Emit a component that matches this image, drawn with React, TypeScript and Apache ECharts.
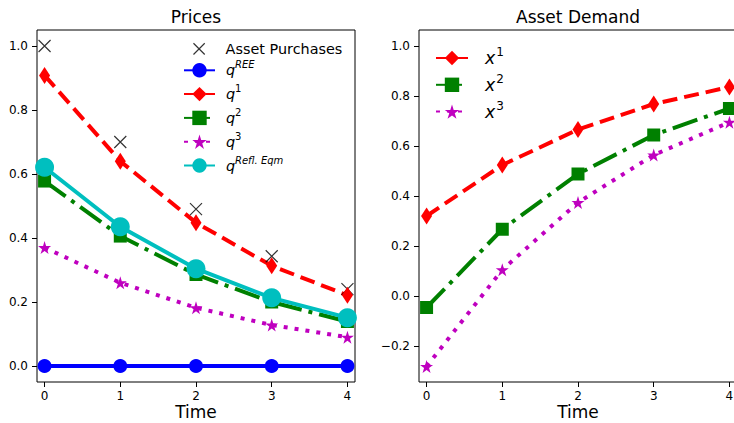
import { useEffect, useRef } from "react";
import * as echarts from "echarts";

// Time steps shared by both panels
const time = [0, 1, 2, 3, 4];

// Prices panel
const assetPurchases = [1.0, 0.7, 0.49, 0.343, 0.24];
const qREE = [0, 0, 0, 0, 0];
const q1 = [0.908, 0.64, 0.448, 0.313, 0.221];
const q2 = [0.578, 0.406, 0.286, 0.2, 0.139];
const q3 = [0.37, 0.26, 0.182, 0.128, 0.09];
const qRefl = [0.621, 0.435, 0.304, 0.213, 0.151];

// Asset demand panel
const x1 = [0.32, 0.524, 0.666, 0.768, 0.836];
const x2 = [-0.046, 0.267, 0.488, 0.644, 0.75];
const x3 = [-0.282, 0.105, 0.374, 0.564, 0.695];

// Tick positions
const timeTicks = [0, 1, 2, 3, 4];
const priceTicks = [0, 0.2, 0.4, 0.6, 0.8, 1.0];
const demandTicks = [-0.2, 0, 0.2, 0.4, 0.6, 0.8, 1.0];

// Legend entries of the price panel: series name, base text, superscript
const priceLegendNames = ["Asset Purchases", "qREE", "q1", "q2", "q3", "qRefl"];
const priceLegendBase = ["Asset Purchases", "q", "q", "q", "q", "q"];
const priceLegendSup = ["", "REE", "1", "2", "3", "Refl. Eqm"];
const priceLegendSupItalic = [false, true, false, false, false, true];

const demandLabels: Record<string, string> = {
  x1: "{base|x}{supd|1}",
  x2: "{base|x}{supd|2}",
  x3: "{base|x}{supd|3}",
};

const FONT = "DejaVu Sans";
const BLUE = "#0000ff";
const RED = "#ff0000";
const GREEN = "#008000";
const MAGENTA = "#bf00bf";
const CYAN = "#00bfbf";

const THIN_DIAMOND = "path://M3,0L6,5L3,10L0,5Z";
const STAR =
  "path://M50,0L61.2,34.5L97.6,34.5L68.2,55.9L79.4,90.5L50,69.1L20.6,90.5L31.8,55.9L2.4,34.5L38.8,34.5Z";
const CROSS = "path://M0,0L10,10M10,0L0,10";
const CROSS_PADDED = "path://M-3,-3M13,13M0,0L10,10M10,0L0,10";

// Price legend geometry (one legend block per row)
const PL_LEFT = 183;
const PL_ROW0 = 48.3;
const PL_ICON_W = 31;
const PL_ICON_H = 18;
const PL_STEP = 23.8;
const PL_SUP_X = 235;

const pts = (ys: number[]) => time.map((t, i) => [t, ys[i]]);

const fmtTick = (v: number) => {
  const s = Math.abs(v).toFixed(1);
  return v < -1e-9 ? "\u2212" + s : s;
};

function makeXAxis(gridIndex: number) {
  return {
    type: "value",
    gridIndex,
    min: -0.1,
    max: 4.1,
    splitLine: { show: false },
    axisLine: { show: false, onZero: false },
    axisTick: {
      show: true,
      length: 5,
      customValues: timeTicks,
      lineStyle: { color: "#000", width: 1 },
    },
    axisLabel: {
      customValues: timeTicks,
      formatter: (v: number) => String(v),
      fontFamily: FONT,
      fontSize: 12,
      color: "#000",
      margin: 8,
    },
    name: "Time",
    nameLocation: "middle",
    nameGap: 21,
    nameMoveOverlap: false,
    nameTextStyle: { fontFamily: FONT, fontSize: 17, lineHeight: 17, color: "#000" },
  };
}

function makeYAxis(gridIndex: number, min: number, max: number, ticks: number[]) {
  return {
    type: "value",
    gridIndex,
    min,
    max,
    splitLine: { show: false },
    axisLine: { show: false, onZero: false },
    axisTick: {
      show: true,
      length: 5,
      customValues: ticks,
      lineStyle: { color: "#000", width: 1 },
    },
    axisLabel: {
      customValues: ticks,
      formatter: fmtTick,
      fontFamily: FONT,
      fontSize: 12,
      color: "#000",
      margin: 9,
    },
  };
}

function lineSeries(
  name: string,
  ys: number[],
  axis: number,
  color: string,
  dash: "solid" | number[],
  symbol: string,
  symbolSize: number | number[]
) {
  return {
    type: "line",
    name,
    xAxisIndex: axis,
    yAxisIndex: axis,
    data: pts(ys),
    color,
    lineStyle: { color, width: 4, type: dash, cap: "butt" },
    itemStyle: { color, borderWidth: 0 },
    symbol,
    symbolSize,
    symbolKeepAspect: false,
    showAllSymbol: true,
    clip: false,
    z: 2,
  };
}

const gridBox = {
  top: 30,
  width: 318,
  height: 352,
  show: true,
  backgroundColor: "transparent",
  borderColor: "#000",
  borderWidth: 1,
  containLabel: false,
  outerBoundsMode: "none",
};

export default function App() {
  const ref = useRef<HTMLDivElement>(null);

  useEffect(() => {
    if (!ref.current) return;
    const chart = echarts.init(ref.current, null, { renderer: "svg" });

    // One legend block per price series, stacked at a fixed row step
    const priceLegends = priceLegendNames.map((name, i) => {
      const item: any = { name };
      let left = PL_LEFT;
      if (i === 0) {
        // marker-only entry: its box starts at the centred marker, not at the handle start
        item.icon = CROSS_PADDED;
        item.itemStyle = { color: "#000", borderColor: "#000", borderWidth: 1.2 };
        left = PL_LEFT + (PL_ICON_W - PL_ICON_H) / 2;
      }
      const token = i === 0 ? "plain" : "base";
      return {
        orient: "vertical",
        left,
        top: PL_ROW0 + PL_STEP * i - PL_ICON_H / 2,
        padding: 0,
        itemWidth: PL_ICON_W,
        itemHeight: PL_ICON_H,
        selectedMode: false,
        data: [item],
        formatter: () => `{${token}|${priceLegendBase[i]}}`,
        textStyle: {
          fontFamily: FONT,
          fontSize: 14.4,
          color: "#000",
          rich: {
            plain: { fontFamily: FONT, fontSize: 14.4, color: "#000", padding: [0, 0, 0, 6] },
            base: {
              fontFamily: FONT,
              fontSize: 14.4,
              fontStyle: "italic",
              color: "#000",
              padding: [0, 0, 0, 6],
            },
          },
        },
      };
    });

    // Superscripts of the price legend labels
    const priceSupers = priceLegendSup
      .map((sup, i) =>
        sup
          ? {
              type: "text",
              x: PL_SUP_X,
              y: PL_ROW0 + PL_STEP * i - 7.3,
              z: 10,
              style: {
                text: sup,
                fontFamily: FONT,
                fontSize: 10,
                fontStyle: priceLegendSupItalic[i] ? "italic" : "normal",
                fill: "#000",
                textAlign: "left",
                textVerticalAlign: "middle",
              },
            }
          : null
      )
      .filter(Boolean);

    chart.setOption({
      animation: false,
      backgroundColor: "#fff",
      grid: [
        { ...gridBox, left: 37 },
        { ...gridBox, left: 419 },
      ],
      xAxis: [makeXAxis(0), makeXAxis(1)],
      yAxis: [
        makeYAxis(0, -0.05, 1.05, priceTicks),
        makeYAxis(1, -0.344, 1.064, demandTicks),
      ],
      legend: [
        ...priceLegends,
        {
          orient: "vertical",
          left: 435,
          top: 46,
          padding: 0,
          itemWidth: 32,
          itemHeight: 18,
          itemGap: 6.3,
          selectedMode: false,
          data: ["x1", "x2", "x3"],
          formatter: (name: string) => demandLabels[name] ?? name,
          textStyle: {
            fontFamily: FONT,
            fontSize: 17.3,
            color: "#000",
            rich: {
              base: {
                fontFamily: FONT,
                fontSize: 17.3,
                fontStyle: "italic",
                lineHeight: 24,
                color: "#000",
                padding: [0, 1, 0, 12],
              },
              supd: {
                fontFamily: FONT,
                fontSize: 12,
                lineHeight: 12,
                verticalAlign: "top",
                color: "#000",
              },
            },
          },
        },
      ],
      graphic: [
        {
          type: "text",
          x: 196,
          y: 17,
          style: {
            text: "Prices",
            fontFamily: FONT,
            fontSize: 17,
            fill: "#000",
            textAlign: "center",
            textVerticalAlign: "middle",
          },
        },
        {
          type: "text",
          x: 578,
          y: 17,
          style: {
            text: "Asset Demand",
            fontFamily: FONT,
            fontSize: 17,
            fill: "#000",
            textAlign: "center",
            textVerticalAlign: "middle",
          },
        },
        ...priceSupers,
      ],
      series: [
        {
          type: "scatter",
          name: "Asset Purchases",
          xAxisIndex: 0,
          yAxisIndex: 0,
          data: pts(assetPurchases),
          symbol: CROSS,
          symbolSize: 12,
          itemStyle: { color: "#000", borderColor: "#000", borderWidth: 1.2 },
          clip: false,
          z: 2,
        },
        lineSeries("qREE", qREE, 0, BLUE, "solid", "circle", 14),
        lineSeries("q1", q1, 0, RED, [15, 7], THIN_DIAMOND, [11, 17]),
        lineSeries("q2", q2, 0, GREEN, [26, 7, 4, 7], "rect", 13),
        lineSeries("q3", q3, 0, MAGENTA, [4, 7], STAR, 13),
        lineSeries("qRefl", qRefl, 0, CYAN, "solid", "circle", 19),
        lineSeries("x1", x1, 1, RED, [15, 7], THIN_DIAMOND, [11, 17]),
        lineSeries("x2", x2, 1, GREEN, [26, 7, 4, 7], "rect", 13),
        lineSeries("x3", x3, 1, MAGENTA, [4, 7], STAR, 13),
      ],
    });

    return () => chart.dispose();
  }, []);

  return (
    <div
      ref={ref}
      style={{ position: "fixed", left: 0, top: 0, width: 734, height: 423 }}
    />
  );
}
